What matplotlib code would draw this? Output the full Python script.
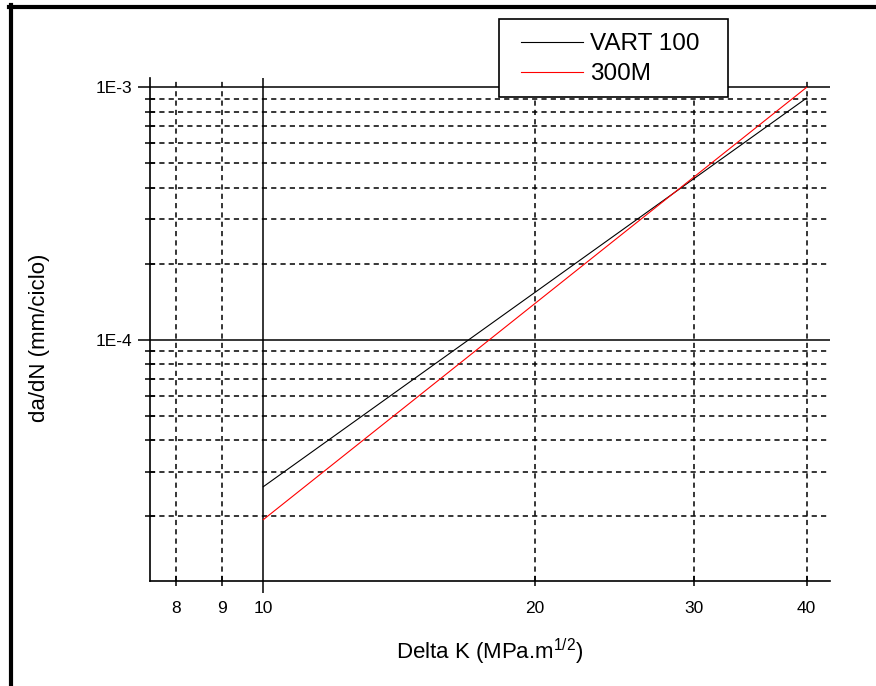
import matplotlib.pyplot as plt
from matplotlib.lines import Line2D
from matplotlib.patches import Rectangle
from matplotlib.ticker import FixedLocator, FixedFormatter, NullFormatter

plt.rcParams['font.family'] = ['Liberation Sans', 'DejaVu Sans']

# data
delta_k = [10, 40]
vart100 = [2.62e-5, 9.07e-4]
m300 = [1.94e-5, 1.0e-3]

x_major = [10]
x_minor = [8, 9, 20, 30, 40]
x_minor_labels = ['8', '9', '20', '30', '40']
y_major = [1e-4, 1e-3]
y_major_labels = ['1E-4', '1E-3']
y_minor = [k * 10.0**e for e in (-5, -4) for k in range(2, 10)]

W, H = 876, 686
fig = plt.figure(figsize=(W / 100, H / 100), dpi=100)
ax = fig.add_axes([150 / W, 1 - 581 / H, 680 / W, 503 / H])

ax.plot(delta_k, vart100, color='black', lw=0.8, label='VART 100', zorder=3)
ax.plot(delta_k, m300, color='red', lw=0.8, label='300M', zorder=3)

ax.set_xscale('log')
ax.set_yscale('log')
ax.set_xlim(7.49, 42.46)
ax.set_ylim(1.109e-5, 1.089e-3)

ax.xaxis.set_major_locator(FixedLocator(x_major))
ax.xaxis.set_major_formatter(FixedFormatter(['10']))
ax.xaxis.set_minor_locator(FixedLocator(x_minor))
ax.xaxis.set_minor_formatter(FixedFormatter(x_minor_labels))
ax.yaxis.set_major_locator(FixedLocator(y_major))
ax.yaxis.set_major_formatter(FixedFormatter(y_major_labels))
ax.yaxis.set_minor_locator(FixedLocator(y_minor))
ax.yaxis.set_minor_formatter(NullFormatter())

ax.grid(which='major', color='black', ls='-', lw=1.1)
ax.grid(which='minor', color='black', ls=(0, (3.4, 2.7)), lw=1.1)
ax.set_axisbelow(True)

for s in ('top', 'right'):
    ax.spines[s].set_visible(False)
for s in ('left', 'bottom'):
    ax.spines[s].set_linewidth(1.2)

L, l, p = 8.6, 6.5, 6.0
ax.tick_params(which='major', direction='out', length=L, width=1.1, labelsize=12.5, pad=p)
ax.tick_params(which='minor', direction='inout', length=l, width=1.1, labelsize=12.5,
               pad=L + p - l / 2)
ax.tick_params(axis='y', which='major', pad=4.0)

ax.set_xlabel(r'Delta K (MPa.m$^{\mathregular{1/2}}$)', fontsize=16)
ax.set_ylabel('da/dN (mm/ciclo)', fontsize=16)
ax.yaxis.set_label_coords(40 / W, 1 - 338 / H, transform=fig.transFigure)
ax.xaxis.set_label_coords(490 / W, 1 - 652 / H, transform=fig.transFigure)
ax.xaxis.label.set_va('center')
ax.yaxis.label.set_va('center')

# legend box drawn separately so its padding matches the original
box = Rectangle((499 / W, 1 - 97 / H), 229 / W, 78 / H, transform=fig.transFigure,
                facecolor='white', edgecolor='black', lw=1.2, zorder=9)
fig.add_artist(box)
handles, labels = ax.get_legend_handles_labels()
leg = fig.legend(handles, labels, loc='upper left', bbox_to_anchor=(521 / W, 1 - 33 / H),
                 bbox_transform=fig.transFigure, fontsize=17.5, frameon=False,
                 handlelength=2.55, handletextpad=0.3, labelspacing=0.34,
                 borderpad=0, borderaxespad=0)
leg.set_zorder(10)

# outer frame (left and top edges)
fig.add_artist(Line2D([11 / W, 11 / W], [0, 1 - 5 / H], color='black', lw=3.0,
                      transform=fig.transFigure))
fig.add_artist(Line2D([9 / W, 1], [1 - 7 / H, 1 - 7 / H], color='black', lw=3.0,
                      transform=fig.transFigure))

fig.savefig('out.png', dpi=100)
